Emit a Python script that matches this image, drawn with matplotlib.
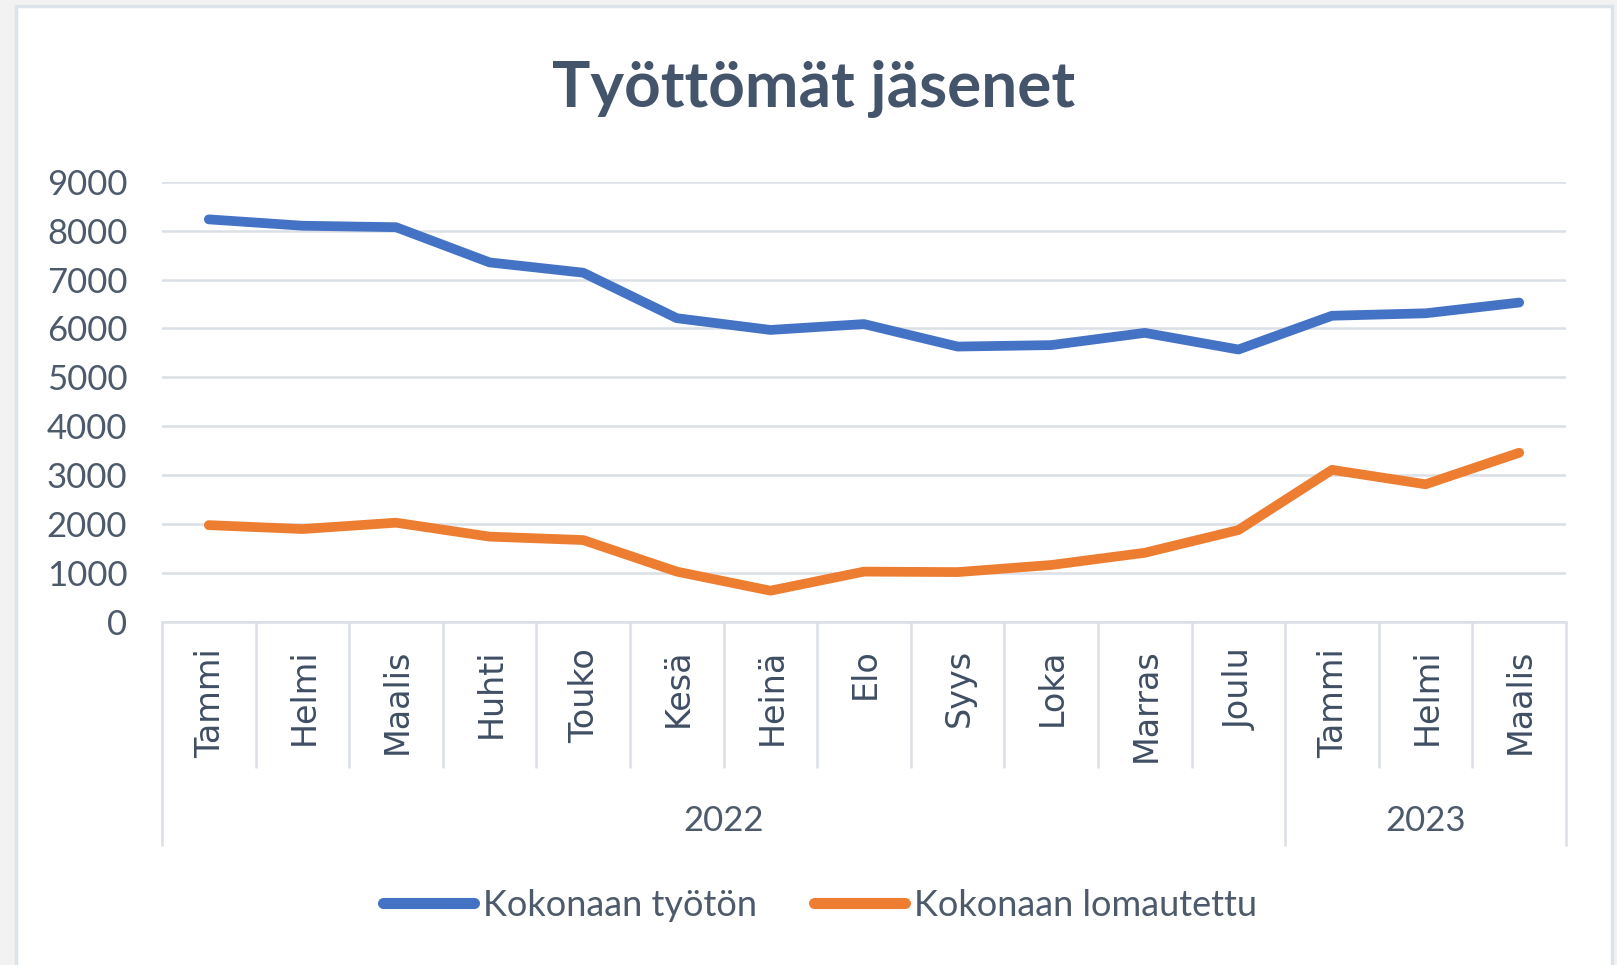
import matplotlib.pyplot as plt
from matplotlib.patches import Rectangle

months = ["Tammi", "Helmi", "Maalis", "Huhti", "Touko", "Kesä", "Heinä",
          "Elo", "Syys", "Loka", "Marras", "Joulu", "Tammi", "Helmi", "Maalis"]
years = ["2022", "2023"]
year_months = [12, 3]

tyoton = [8230, 8100, 8070, 7350, 7140, 6210, 5970, 6090, 5630, 5660,
          5910, 5570, 6260, 6310, 6530]
lomautettu = [1980, 1900, 2030, 1745, 1675, 1030, 640, 1030, 1020, 1165,
              1415, 1880, 3110, 2815, 3460]

BLUE = "#4472c4"
ORANGE = "#ed7d31"
GRID = "#dbe0e7"
TEXT = "#44546a"

W, H = 1617, 965
fig = plt.figure(figsize=(W / 100, H / 100), dpi=100, facecolor="#f2f2f2")
fig.patches.append(Rectangle((16 / W, -0.01), (1612 - 16) / W, 1.01 - 6 / H,
                             transform=fig.transFigure, facecolor="white",
                             edgecolor="#dde3ea", linewidth=2.5, zorder=-5))

ax = fig.add_axes([162 / W, 1 - 622 / H, (1566 - 162) / W, (622 - 181.7) / H])
ax.set_facecolor("none")

x = [i + 0.5 for i in range(len(months))]
ax.plot(x, tyoton, color=BLUE, lw=7, solid_capstyle="round",
        solid_joinstyle="round", label="Kokonaan työtön")
ax.plot(x, lomautettu, color=ORANGE, lw=7, solid_capstyle="round",
        solid_joinstyle="round", label="Kokonaan lomautettu")

ax.set_xlim(0, len(months))
ax.set_ylim(0, 9000)
ax.set_yticks(range(0, 9001, 1000))
ax.grid(axis="y", color=GRID, lw=1.8)
ax.set_axisbelow(True)
ax.tick_params(axis="y", length=0, pad=25, labelsize=25, labelcolor="#4d5a6b")
for lab in ax.get_yticklabels():
    lab.set_fontfamily("Lato")

for s in ["top", "left", "right"]:
    ax.spines[s].set_visible(False)
ax.spines["bottom"].set_color(GRID)
ax.spines["bottom"].set_linewidth(1.8)

# year boundaries (long ticks) and month boundaries (short ticks)
bounds = [0]
for n in year_months:
    bounds.append(bounds[-1] + n)
ax.set_xticks(bounds)
ax.set_xticks([i for i in range(1, len(months)) if i not in bounds], minor=True)
ax.tick_params(axis="x", which="major", length=161, width=1.8, color=GRID,
               labelbottom=False)
ax.tick_params(axis="x", which="minor", length=105, width=1.8, color=GRID,
               labelbottom=False)

for xi, m in zip(x, months):
    ax.annotate(m, (xi, 0), xycoords=("data", "axes fraction"),
                xytext=(1, -19), textcoords="offset points", rotation=90,
                ha="center", va="top", fontsize=24, color="#3f4e63",
                family="DejaVu Sans")

for i, yr in enumerate(years):
    ax.annotate(yr, ((bounds[i] + bounds[i + 1]) / 2, 0),
                xycoords=("data", "axes fraction"), xytext=(0, -143),
                textcoords="offset points", ha="center", va="center",
                fontsize=25, color="#4d5a6b", family="Lato")

fig.text(814 / W, 1 - 107 / H, "Työttömät jäsenet", ha="center",
         va="baseline", fontsize=46, fontweight="bold", color=TEXT,
         family="Lato")

handles, labels = ax.get_legend_handles_labels()
leg = fig.legend(handles, labels, loc="center", bbox_to_anchor=(820 / W, 1 - 905 / H),
                 ncol=2, frameon=False, handlelength=2.5, handletextpad=0.25,
                 columnspacing=1.6, prop={"family": "Lato", "size": 26})
for t in leg.get_texts():
    t.set_color("#4d5a6b")
for l in leg.get_lines():
    l.set_linewidth(8)

fig.savefig("out.png", dpi=100, facecolor=fig.get_facecolor())
